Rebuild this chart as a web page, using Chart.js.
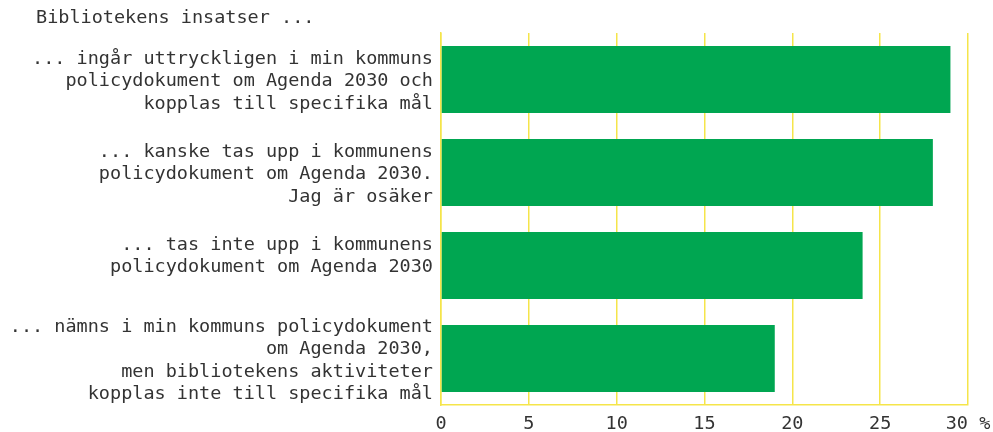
<!DOCTYPE html>
<html>
<head>
<meta charset="utf-8">
<script src="https://cdn.jsdelivr.net/npm/chart.js@4"></script>
<style>
  html, body { margin: 0; padding: 0; background: #fff; }
  #wrap { width: 993px; height: 432px; }
</style>
</head>
<body>
<div id="wrap"><canvas id="chart"></canvas></div>
<script>
// labels (one array of lines per bar; the short one keeps a blank third line like the original)
const categories = [
  ["... ingår uttryckligen i min kommuns", "policydokument om Agenda 2030 och", "kopplas till specifika mål"],
  ["... kanske tas upp i kommunens", "policydokument om Agenda 2030.", "Jag är osäker"],
  ["... tas inte upp i kommunens", "policydokument om Agenda 2030", ""],
  ["... nämns i min kommuns policydokument", "om Agenda 2030,", "men bibliotekens aktiviteter", "kopplas inte till specifika mål"]
];
const values = [29, 28, 24, 19];
const tickValues = [0, 5, 10, 15, 20, 25, 30];
const chartTitle = "Bibliotekens insatser ...";
const unitLabel = "%";

const FONT = "'DejaVu Sans Mono', 'Liberation Mono', monospace";
const TEXT = "#333333";
const GREEN = "#00a651";
const YELLOW = "#f5e54a";

// draws the title top-left
const titleText = {
  id: "titleText",
  afterDraw(chart) {
    const ctx = chart.ctx;
    ctx.save();
    ctx.font = "18.5px " + FONT;
    ctx.fillStyle = TEXT;
    ctx.textBaseline = "middle";
    ctx.textAlign = "left";
    ctx.fillText(chartTitle, 36, 18);
    ctx.restore();
  }
};

new Chart(document.getElementById("chart"), {
  type: "bar",
  data: {
    labels: categories,
    datasets: [{
      data: values,
      backgroundColor: GREEN,
      borderWidth: 0,
      categoryPercentage: 0.72,
      barPercentage: 1
    }]
  },
  options: {
    indexAxis: "y",
    responsive: true,
    maintainAspectRatio: false,
    animation: false,
    devicePixelRatio: 1,
    layout: { padding: { top: 33, right: 25, left: 0, bottom: 0 } },
    plugins: {
      legend: { display: false },
      tooltip: { enabled: false }
    },
    scales: {
      x: {
        min: 0,
        max: 30,
        afterBuildTicks(scale) {
          scale.ticks = tickValues.map(v => ({ value: v }));
        },
        afterFit(scale) {
          scale.height = 27;
          scale.paddingLeft = 0;
          scale.paddingRight = 0;
        },
        grid: { color: YELLOW, lineWidth: 1.5, drawTicks: false },
        border: { display: true, color: YELLOW, width: 1.5 },
        ticks: {
          color: TEXT,
          font: { family: FONT, size: 18.5 },
          padding: 8,
          maxRotation: 0,
          callback: (v) => v === tickValues[tickValues.length - 1] ? v + " " + unitLabel : String(v)
        }
      },
      y: {
        afterFit(scale) {
          scale.width = 441;
          scale.paddingTop = 0;
          scale.paddingBottom = 0;
        },
        grid: { display: false, drawTicks: false },
        border: { display: true, color: YELLOW, width: 1.5 },
        ticks: {
          color: TEXT,
          font: { family: FONT, size: 18.5, lineHeight: 1.21 },
          padding: 8,
          labelOffset: 2
        }
      }
    }
  },
  plugins: [titleText]
});
</script>
</body>
</html>
